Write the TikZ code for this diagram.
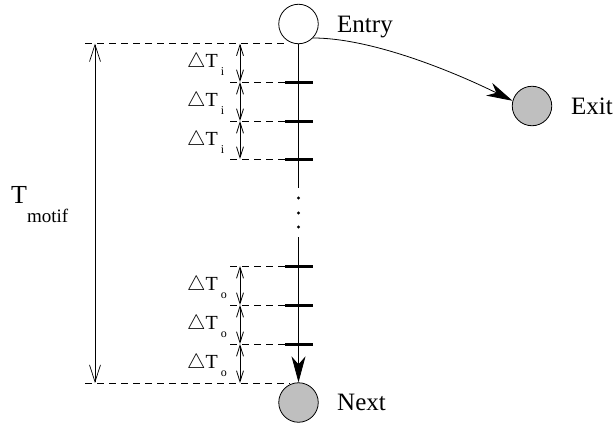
\documentclass[tikz,border=0pt]{standalone}
\usepackage{fontspec}
\setmainfont{Liberation Serif}
\usetikzlibrary{arrows.meta}
\begin{document}
\begin{tikzpicture}[x=1pt,y=-1pt,
  state/.style={circle,draw,line width=0.8pt,minimum size=39.5pt,inner sep=0pt},
  endstate/.style={state,fill=black!25},
  lbl/.style={anchor=base west,inner sep=0pt,font=\fontsize{25}{25}\selectfont},
  dtl/.style={anchor=base west,inner sep=0pt,font=\fontsize{20}{20}\selectfont},
  guide/.style={line width=0.7pt,dash pattern=on 7pt off 5pt},
  tick/.style={line width=3pt},
  dim/.style={line width=0.8pt,{Straight Barb[length=11pt,width=7pt]}-{Straight Barb[length=11pt,width=7pt]}},
  bigdim/.style={line width=0.7pt,{Straight Barb[length=17pt,width=11pt]}-{Straight Barb[length=17pt,width=11pt]}},
  flow/.style={line width=0.8pt,-{Stealth[length=26pt,width=14pt,inset=8pt]}}
]
\useasboundingbox (0,0) rectangle (616,423);
% states
\node[state,fill=white] (entry) at (298.5,24) {};
\node[endstate] (exit) at (532,106) {};
\node[endstate] (next) at (298.5,402.5) {};
\node[lbl] (entrylbl) at (337,32) {Entry};
\node[lbl] (exitlbl) at (571,114) {Exit};
\node[lbl] (nextlbl) at (337,410) {Next};
% main line
\coordinate (gapa) at (298.5,188);
\coordinate (gapb) at (298.5,237);
\draw[line width=0.8pt] (entry.south) -- (gapa);
\draw[flow] (gapb) -- (next.north);
\foreach \y/\n in {198/da,213/db,227/dc}{\fill (298.5,\y) circle (1.6pt);}
% ticks
\foreach \y/\n in {82/t1,121/t2,159/t3,266/t4,305/t5,344/t6}{
  \coordinate (\n l) at (285,\y);
  \coordinate (\n r) at (313,\y);
  \coordinate (\n g) at (230,\y);
  \draw[tick] (\n l) -- (\n r);
  \draw[guide] (\n g) -- (\n l);
}
% top / bottom guides
\coordinate (topl) at (85,43.5);
\coordinate (topr) at (286,43.5);
\coordinate (botl) at (85,383);
\coordinate (botr) at (290,383);
\draw[guide] (topl) -- (topr);
\draw[guide] (botl) -- (botr);
% small dimension arrows
\coordinate (s0) at (240,43.5);
\coordinate (s1) at (240,82);
\coordinate (s2) at (240,121);
\coordinate (s3) at (240,159);
\coordinate (s4) at (240,266);
\coordinate (s5) at (240,305);
\coordinate (s6) at (240,344);
\coordinate (s7) at (240,383);
\draw[dim] (s0) -- (s1);
\draw[dim] (s1) -- (s2);
\draw[dim] (s2) -- (s3);
\draw[dim] (s4) -- (s5);
\draw[dim] (s5) -- (s6);
\draw[dim] (s6) -- (s7);
% big dimension
\coordinate (b0) at (95,43.5);
\coordinate (b1) at (95,383);
\draw[bigdim] (b0) -- (b1);
\node[anchor=base west,inner sep=0pt,font=\fontsize{26}{26}\selectfont] (tmotif) at (11,203)
  {T\raisebox{-19pt}{\fontsize{19}{19}\selectfont motif}};
% delta labels
\foreach \y/\s/\n in {67/i/l1,106/i/l2,145/i/l3,290/o/l4,329/o/l5,368/o/l6}{
  \node[dtl] (\n) at (187,\y) {$\triangle$T\hspace{3pt}\raisebox{-8pt}{\fontsize{12}{12}\selectfont \s}};
}
% entry -> exit
\draw[flow] (entry.-44) .. controls (370,38) and (450,70) .. (exit.165);
\end{tikzpicture}
\end{document}
